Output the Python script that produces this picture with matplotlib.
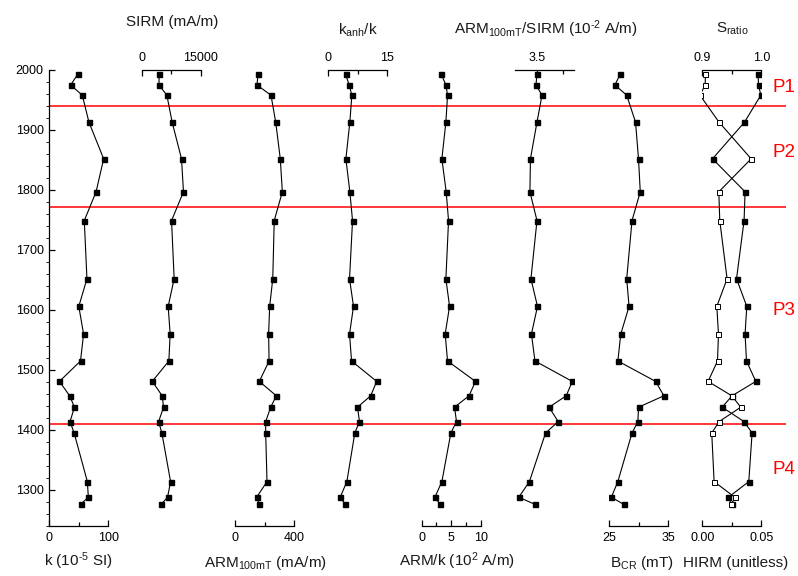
import matplotlib
matplotlib.use("Agg")
import matplotlib.pyplot as plt
from matplotlib.ticker import FixedLocator, FixedFormatter

plt.rcParams["font.family"] = ["Liberation Sans", "DejaVu Sans"]
plt.rcParams["mathtext.fontset"] = "custom"
plt.rcParams["mathtext.rm"] = "Liberation Sans"
plt.rcParams["mathtext.it"] = "Liberation Sans:italic"

# sample ages (year AD)
age = [1993, 1975, 1958, 1913, 1852, 1797, 1749, 1652, 1606, 1560,
       1515, 1481, 1457, 1438, 1414, 1395, 1314, 1288, 1276]

k = [48.3, 36.2, 55.9, 67.2, 92.1, 79.3, 59.3, 63.8, 50.0, 58.1,
     52.9, 17.2, 34.5, 42.6, 35.2, 42.1, 64.5, 66.2, 52.9]
sirm = [4450, 4380, 6400, 7740, 10120, 10620, 7590, 8250, 6730, 7230,
        6910, 2680, 5210, 5560, 4300, 5130, 7340, 6580, 4960]
arm = [156, 149, 244, 276, 307, 321, 266, 256, 235, 228,
       231, 165, 280, 242, 208, 208, 217, 147, 165]
kanh_k = [4.39, 5.30, 5.98, 5.48, 4.47, 5.48, 6.16, 5.40, 6.41, 5.40,
          5.91, 12.30, 10.78, 7.42, 7.93, 6.74, 4.72, 3.03, 4.29]
arm_k = [3.31, 4.10, 4.38, 4.10, 3.42, 4.15, 4.55, 4.10, 4.72, 3.98,
         4.38, 9.11, 8.03, 5.56, 5.90, 4.94, 3.42, 2.24, 3.14]
arm_sirm = [3.49, 3.47, 3.59, 3.49, 3.36, 3.35, 3.49, 3.37, 3.50, 3.38,
            3.45, 4.19, 4.07, 3.73, 3.91, 3.66, 3.34, 3.13, 3.45]
bcr = [26.9, 26.0, 28.0, 29.5, 30.0, 30.3, 28.9, 28.0, 28.4, 27.0,
       26.5, 32.9, 34.3, 30.0, 29.9, 28.9, 26.5, 25.4, 27.5]
s_ratio = [0.9946, 0.9953, 0.9992, 0.9715, 0.9173, 0.9725, 0.9708, 0.958, 0.9754, 0.9725,
           0.9749, 0.9907, 0.9505, 0.9336, 0.9708, 0.9844, 0.9788, 0.9444, 0.9495]
hirm = [0.0027, 0.0024, -0.002, 0.0142, 0.0414, 0.014, 0.0148, 0.021, 0.0123, 0.0137,
        0.0129, 0.0049, 0.025, 0.0326, 0.0142, 0.008, 0.01, 0.0275, 0.0247]

boundaries = [1940, 1771, 1410]
periods = ["P1", "P2", "P3", "P4"]
period_age = [1971, 1862, 1599, 1335]

W, H = 798, 576
Y_TOP, Y_BOT = 70, 526
HYPHEN = "\u2010"  # plain hyphen in superscripts instead of a minus sign


def box(x0, x1):
    return [x0 / W, (H - Y_BOT) / H, (x1 - x0) / W, (Y_BOT - Y_TOP) / H]


def make_panel(x0, side, xlim, major, labels, minor):
    ax = fig.add_axes(box(x0, x0 + 59))
    ax.patch.set_visible(False)
    for s in ["left", "right", "top", "bottom"]:
        ax.spines[s].set_visible(s == side)
        ax.spines[s].set_linewidth(0.9)
    ax.set_xlim(xlim)
    ax.set_ylim(1240, 2000)
    ax.xaxis.set_major_locator(FixedLocator(major))
    ax.xaxis.set_major_formatter(FixedFormatter(labels))
    ax.xaxis.set_minor_locator(FixedLocator(minor))
    if side == "top":
        ax.xaxis.tick_top()
    else:
        ax.xaxis.tick_bottom()
    ax.tick_params(axis="x", which="both", direction="in", width=0.9, pad=4, labelsize=9)
    ax.tick_params(axis="x", which="major", length=4)
    ax.tick_params(axis="x", which="minor", length=3)
    ax.tick_params(axis="y", left=False, labelleft=False, which="both")
    return ax


def draw(ax, x, filled=True):
    if filled:
        ax.plot(x, age, color="black", lw=0.8, marker="s", ms=3.6,
                mfc="black", mec="black")
    else:
        ax.plot(x, age, color="black", lw=0.8, marker="s", ms=3.6,
                mfc="white", mec="black", mew=0.7)


fig = plt.figure(figsize=(W / 100, H / 100), dpi=100)

# red period boundaries across all panels
ax_bg = fig.add_axes(box(49.3, 786))
ax_bg.set_ylim(1240, 2000)
ax_bg.axis("off")
for b in boundaries:
    ax_bg.axhline(b, color="#ff0000", lw=1.1)
for p, a in zip(periods, period_age):
    ax_bg.text((772 - 49.3) / (786 - 49.3), a, p, color="#ff0000", fontsize=13.5,
               ha="left", va="center", transform=ax_bg.get_yaxis_transform())

lefts = [49.3, 141.7, 235, 328.3, 421.7, 515.3, 609, 702.3]

ax1 = make_panel(lefts[0], "bottom", (0, 100), [0, 100], ["0", "100"], [50])
ax1.spines["left"].set_visible(True)
ax1.spines["left"].set_linewidth(0.9)
ax1.tick_params(axis="y", left=True, labelleft=True, direction="in", width=0.9,
                pad=4, labelsize=9)
ax1.tick_params(axis="y", which="major", length=4)
ax1.tick_params(axis="y", which="minor", left=True, length=2.5)
ax1.set_yticks(range(1300, 2001, 100))
ax1.set_yticks(range(1240, 2001, 20), minor=True)
draw(ax1, k)

ax2 = make_panel(lefts[1], "top", (0, 15000), [0, 15000], ["0", "15000"], [7500])
draw(ax2, sirm)

ax3 = make_panel(lefts[2], "bottom", (0, 400), [0, 400], ["0", "400"], [200])
draw(ax3, arm)

ax4 = make_panel(lefts[3], "top", (0, 15), [0, 15], ["0", "15"], [7.5])
draw(ax4, kanh_k)

ax5 = make_panel(lefts[4], "bottom", (0, 10), [0, 5, 10], ["0", "5", "10"], [2.5, 7.5])
draw(ax5, arm_k)

ax6 = make_panel(lefts[5], "top", (3.06, 4.23), [3.5], ["3.5"], [4.0])
draw(ax6, arm_sirm)

ax7 = make_panel(lefts[6], "bottom", (25, 35), [25, 35], ["25", "35"], [30])
draw(ax7, bcr)

# S-ratio on the top axis, HIRM on the bottom axis of the same panel
ax8 = make_panel(lefts[7], "top", (0.9, 1.0), [0.9, 1.0], ["0.9", "1.0"], [0.95])
draw(ax8, s_ratio)
ax9 = make_panel(lefts[7], "bottom", (0, 0.05), [0, 0.05], ["0.00", "0.05"], [0.025])
draw(ax9, hirm, filled=False)


def label(x, y, s):
    fig.text(x / W, 1 - y / H, s, ha="center", va="baseline", fontsize=11,
             color="#1a1a1a")


label(172, 26, "SIRM (mA/m)")
label(357.5, 35, r"k$_{\mathregular{anh}}$/k")
label(545.5, 34, r"ARM$_{\mathregular{100mT}}$/SIRM (10$^{\mathregular{" + HYPHEN + r"2}}$ A/m)")
label(732.5, 33, r"S$_{\mathregular{ratio}}$")
label(78.7, 566.5, r"k (10$^{\mathregular{" + HYPHEN + r"5}}$ SI)")
label(265, 566.5, r"ARM$_{\mathregular{100mT}}$ (mA/m)")
label(457.5, 566.5, r"ARM/k (10$^{\mathregular{2}}$ A/m)")
label(641.7, 566.5, r"B$_{\mathregular{CR}}$ (mT)")
label(735.8, 567.5, "HIRM (unitless)")

fig.savefig("out.png", dpi=100)
